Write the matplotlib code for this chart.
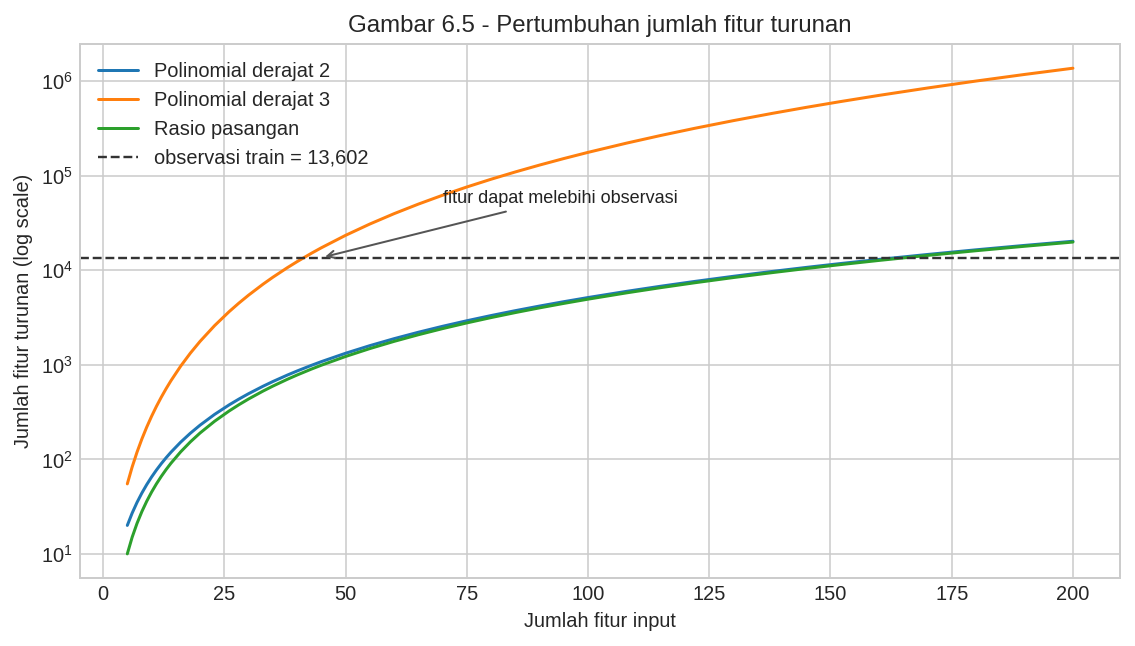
import matplotlib
matplotlib.use("Agg")
import matplotlib.pyplot as plt

# jumlah fitur input
n_input = [5, 6, 7, 8, 9, 10, 11, 12, 13, 14, 16, 18, 20, 23, 26, 28, 30,
           33, 35, 38, 40, 43, 45, 50, 55, 60, 65, 70, 75, 80, 85, 90, 95,
           100, 108, 115, 122, 130, 138, 145, 152, 160, 170, 180, 190, 200]

# fitur turunan per metode
poly2 = [20, 27, 35, 44, 54, 65, 77, 90, 104, 119, 152, 189, 230, 299, 377,
         434, 495, 594, 665, 779, 860, 989, 1080, 1325, 1595, 1890, 2210,
         2555, 2925, 3320, 3740, 4185, 4655, 5150, 5994, 6785, 7625, 8645,
         9729, 10730, 11780, 13040, 14705, 16470, 18335, 20300]
poly3 = [55, 83, 119, 164, 219, 285, 363, 454, 559, 679, 968, 1329, 1770,
         2599, 3653, 4494, 5455, 7139, 8435, 10659, 12340, 15179, 17295,
         23425, 30855, 39710, 50115, 62195, 76075, 91880, 109735, 129765,
         152095, 176850, 221814, 266915, 317749, 383305, 457309, 529395,
         608684, 708560, 848045, 1004730, 1179615, 1373700]
rasio = [10, 15, 21, 28, 36, 45, 55, 66, 78, 91, 120, 153, 190, 253, 325,
         378, 435, 528, 595, 703, 780, 903, 990, 1225, 1485, 1770, 2080,
         2415, 2775, 3160, 3570, 4005, 4465, 4950, 5778, 6555, 7381, 8385,
         9453, 10440, 11476, 12720, 14365, 16110, 17955, 19900]

n_train = 13602

plt.style.use("seaborn-v0_8-whitegrid")
plt.rcParams["font.family"] = ["Liberation Sans", "DejaVu Sans"]

DPI = 144
fig, ax = plt.subplots(figsize=(1135 / DPI, 646 / DPI), dpi=DPI)
fig.subplots_adjust(left=0.0705, right=0.987, top=0.932, bottom=0.105)

ax.plot(n_input, poly2, lw=1.5, label="Polinomial derajat 2")
ax.plot(n_input, poly3, lw=1.5, label="Polinomial derajat 3")
ax.plot(n_input, rasio, lw=1.5, label="Rasio pasangan")
ax.axhline(n_train, color="#333333", ls="--", lw=1.2,
           label=f"observasi train = {n_train:,}")

ax.set_yscale("log")
ax.annotate("fitur dapat melebihi observasi", xy=(45, n_train), xytext=(70, 5.2e4),
            fontsize=9, color="#222222",
            arrowprops=dict(arrowstyle="->", color="#555555", lw=1))

ax.set_title("Gambar 6.5 - Pertumbuhan jumlah fitur turunan", fontsize=12)
ax.set_xlabel("Jumlah fitur input", fontsize=10)
ax.set_ylabel("Jumlah fitur turunan (log scale)", fontsize=10)
ax.tick_params(labelsize=10)
ax.legend(loc="upper left", fontsize=10)

fig.savefig("out.png", dpi=DPI)
